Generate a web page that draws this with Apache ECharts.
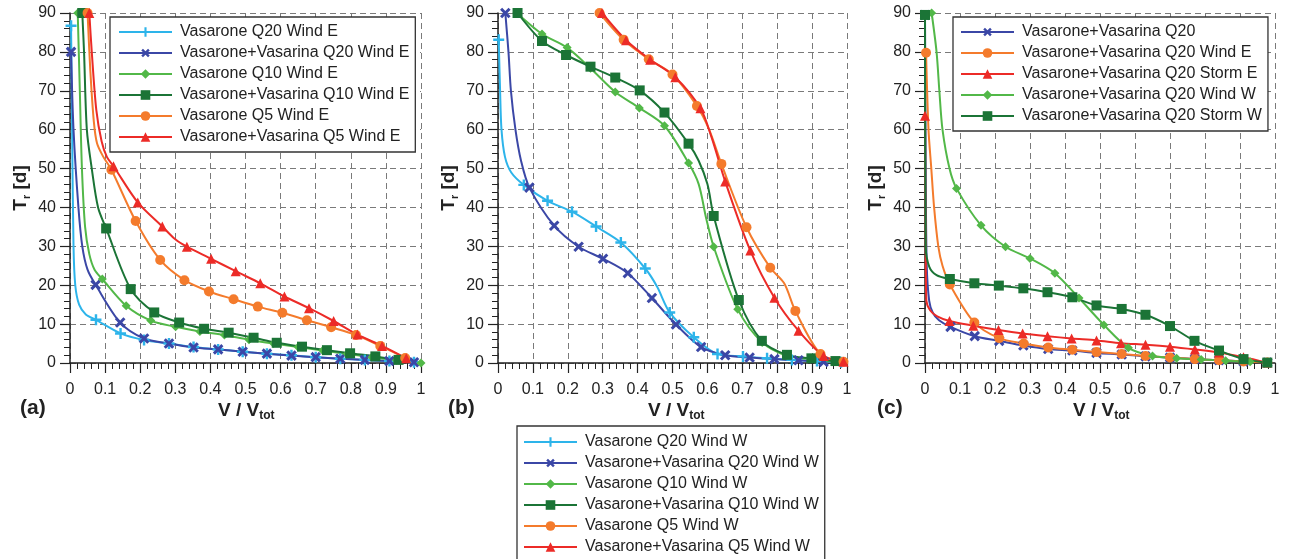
<!DOCTYPE html>
<html><head><meta charset="utf-8">
<script src="https://cdn.jsdelivr.net/npm/echarts@6/dist/echarts.min.js"></script>
<style>html,body{margin:0;padding:0;background:#fff}#c{width:1289px;height:559px}</style>
</head><body><div id="c"></div><script>
// ---------- tick labels / axis ranges ----------
const xTicks = [0,0.1,0.2,0.3,0.4,0.5,0.6,0.7,0.8,0.9,1];
const yTicks = [0,10,20,30,40,50,60,70,80,90];
const panelLabels = ['(a)','(b)','(c)'];

// ---------- series names ----------
const namesA = ['Vasarone Q20 Wind E','Vasarone+Vasarina Q20 Wind E','Vasarone Q10 Wind E','Vasarone+Vasarina Q10 Wind E','Vasarone Q5 Wind E','Vasarone+Vasarina Q5 Wind E'];
const namesB = ['Vasarone Q20 Wind W','Vasarone+Vasarina Q20 Wind W','Vasarone Q10 Wind W','Vasarone+Vasarina Q10 Wind W','Vasarone Q5 Wind W','Vasarone+Vasarina Q5 Wind W'];
const namesC = ['Vasarone+Vasarina Q20','Vasarone+Vasarina Q20 Wind E','Vasarone+Vasarina Q20 Storm E','Vasarone+Vasarina Q20 Wind W','Vasarone+Vasarina Q20 Storm W'];

// ---------- panel (a): marker points [V/Vtot, Tr] and extra curve points ----------
const a1 = [[0.003,86.7],[0.074,11.1],[0.144,7.6],[0.211,5.9],[0.282,5.0],[0.352,4.1],[0.422,3.5],[0.492,2.9],[0.561,2.4],[0.631,2.0],[0.700,1.5],[0.770,1.1],[0.840,0.8],[0.910,0.5],[0.980,0.2]];
const a1c = [[0.006,60],[0.01,30],[0.015,20],[0.026,15],[0.045,12.5]];
const a2 = [[0.003,80],[0.073,20.1],[0.143,10.4],[0.211,6.3],[0.282,5.0],[0.352,4.0],[0.422,3.5],[0.492,2.9],[0.561,2.4],[0.631,1.9],[0.700,1.5],[0.770,1.1],[0.840,0.8],[0.910,0.5],[0.980,0.2]];
const a2c = [[0.01,60],[0.024,40],[0.035,30],[0.05,24]];
const a3 = [[0.022,90],[0.092,21.6],[0.160,14.7],[0.230,10.9],[0.301,9.3],[0.370,8.1],[0.440,7.2],[0.510,6.0],[0.580,5.0],[0.650,4.1],[0.720,3.2],[0.790,2.3],[0.860,1.5],[0.930,0.7],[1.000,0.0]];
const a3c = [[0.028,70],[0.034,50],[0.043,35],[0.055,28],[0.07,24]];
const a4 = [[0.035,90],[0.103,34.6],[0.173,19.0],[0.240,13.0],[0.311,10.4],[0.382,8.8],[0.452,7.8],[0.523,6.5],[0.589,5.2],[0.661,4.2],[0.732,3.3],[0.798,2.5],[0.870,1.7],[0.936,0.8]];
const a4c = [[0.04,80],[0.048,60],[0.062,50],[0.08,40],[0.99,0.2]];
const a5 = [[0.050,90],[0.118,49.7],[0.187,36.5],[0.257,26.5],[0.326,21.3],[0.396,18.4],[0.466,16.4],[0.535,14.5],[0.605,12.9],[0.675,11.0],[0.744,9.2],[0.815,7.2],[0.884,4.4],[0.955,1.3]];
const a5c = [[0.058,75],[0.068,62],[0.077,56.5],[0.095,53]];
const a6 = [[0.055,90],[0.124,50.6],[0.193,41.3],[0.263,35.1],[0.333,29.9],[0.402,26.8],[0.472,23.6],[0.542,20.5],[0.611,17.1],[0.681,14.1],[0.751,10.8],[0.819,7.3],[0.889,4.4],[0.958,1.2]];
const a6c = [[0.062,80],[0.075,65],[0.09,57],[0.105,53],[0.3,31.8]];

// ---------- panel (b) ----------
const b1 = [[0.002,83.1],[0.074,45.8],[0.142,41.7],[0.212,38.9],[0.281,35.1],[0.352,31.0],[0.422,24.3],[0.492,13.0],[0.561,6.6],[0.629,2.3],[0.702,1.7],[0.771,1.2],[0.842,0.8],[0.914,0.5],[0.983,0.2]];
const b1c = [[0.006,70],[0.01,60],[0.02,53],[0.038,49],[0.456,19.6]];
const b2 = [[0.021,90],[0.090,45.1],[0.161,35.3],[0.231,29.9],[0.301,26.8],[0.372,23.1],[0.441,16.7],[0.510,9.9],[0.582,4.1],[0.651,2.0],[0.721,1.4],[0.792,1.0],[0.861,0.7],[0.933,0.3]];
const b2c = [[0.03,80],[0.037,70],[0.05,60],[0.066,52]];
const b3 = [[0.054,90],[0.126,84.6],[0.198,81.1],[0.265,75.8],[0.336,69.7],[0.405,65.6],[0.477,61.0],[0.546,51.4],[0.618,29.9],[0.687,13.8],[0.757,5.3],[0.826,1.9],[0.896,1.0],[0.966,0.4]];
const b3c = [[0.575,46],[0.597,37]];
const b4 = [[0.056,90],[0.126,82.8],[0.195,79.2],[0.265,76.2],[0.336,73.4],[0.406,70.1],[0.477,64.4],[0.546,56.4],[0.618,37.8],[0.690,16.2],[0.756,5.7],[0.828,2.1],[0.898,1.2],[0.967,0.5]];
const b4c = [[0.575,52],[0.6,46]];
const b5 = [[0.291,90],[0.360,83.1],[0.432,78.1],[0.500,74.2],[0.570,66.1],[0.640,51.2],[0.712,34.9],[0.780,24.5],[0.852,13.4],[0.924,2.3],[0.990,0.3]];
const b5c = [[0.605,60],[0.82,20.5]];
const b6 = [[0.298,90],[0.367,83.0],[0.436,78.0],[0.508,73.5],[0.580,65.5],[0.651,46.7],[0.723,28.9],[0.792,16.8],[0.861,8.3],[0.933,1.8],[0.990,0.3]];
const b6c = [[0.612,58]];

// ---------- panel (c) ----------
const c1 = [[0.0,89.5],[0.073,9.3],[0.142,6.9],[0.212,5.7],[0.281,4.5],[0.352,3.6],[0.421,3.2],[0.490,2.6],[0.562,2.2],[0.630,1.7],[0.700,1.4],[0.771,1.0],[0.840,0.7],[0.910,0.4],[0.978,0.1]];
const c1c = [[0.002,50],[0.005,25],[0.012,16],[0.022,13],[0.04,11]];
const c2 = [[0.003,79.8],[0.071,20.2],[0.141,10.4],[0.212,6.4],[0.282,5.0],[0.352,4.0],[0.421,3.4],[0.490,2.8],[0.562,2.3],[0.630,1.8],[0.700,1.4],[0.771,1.0],[0.840,0.7],[0.910,0.4],[0.978,0.1]];
const c2c = [[0.01,60],[0.018,50],[0.026,40],[0.038,30],[0.05,25]];
const c3 = [[0.0,63.6],[0.070,10.8],[0.138,9.6],[0.210,8.5],[0.279,7.6],[0.350,6.9],[0.419,6.3],[0.490,5.8],[0.560,5.1],[0.630,4.7],[0.700,4.2],[0.771,3.5],[0.840,2.7],[0.910,1.5],[0.978,0.1]];
const c3c = [[0.002,30],[0.004,16],[0.015,13.5],[0.035,12]];
const c4 = [[0.019,90],[0.090,44.9],[0.160,35.4],[0.230,29.9],[0.300,26.9],[0.371,23.1],[0.440,16.7],[0.511,9.8],[0.581,3.9],[0.650,1.8],[0.719,1.2],[0.789,0.9],[0.859,0.6],[0.929,0.3]];
const c4c = [[0.033,80],[0.041,70],[0.05,60],[0.07,50]];
const c5 = [[0.0,89.5],[0.071,21.6],[0.141,20.5],[0.211,19.9],[0.281,19.2],[0.350,18.2],[0.421,16.9],[0.490,14.8],[0.562,13.9],[0.630,12.4],[0.700,9.5],[0.770,5.7],[0.840,3.2],[0.910,1.0],[0.978,0.1]];
const c5c = [[0.002,30],[0.012,24.8],[0.033,22.6]];

// ---------- styles ----------
const COL = {cyan:'#2DB4EA', blue:'#3B47A6', lgreen:'#52B848', dgreen:'#1B7436', orange:'#F47B2C', red:'#EC2B27'};
const PLUS = 'path://M3.9,0H6.1V3.9H10V6.1H6.1V10H3.9V6.1H0V3.9H3.9Z';
const XMARK = 'path://M3.75,0H6.25V3.75H10V6.25H6.25V10H3.75V6.25H0V3.75H3.75Z';
const SYM = {
  plus:{symbol:PLUS,size:11,rot:0},
  cross:{symbol:XMARK,size:12,rot:45},
  diamond:{symbol:'diamond',size:9,rot:0},
  square:{symbol:'rect',size:10,rot:0},
  circle:{symbol:'circle',size:10,rot:0},
  triangle:{symbol:'triangle',size:10,rot:0}
};
const FONT = 'Liberation Sans, Arial, sans-serif';

function build(markers, extra){
  const pts = markers.map(p=>({value:p, m:true})).concat(extra.map(p=>({value:p, m:false})));
  pts.sort((a,b)=>a.value[0]-b.value[0]);
  return pts.map(p=> p.m ? {value:p.value} : {value:p.value, symbol:'none'});
}
function mk(name, gi, color, sym, markers, extra){
  const s = SYM[sym];
  return {
    type:'line', name:name, xAxisIndex:gi, yAxisIndex:gi,
    data: build(markers, extra),
    smooth:0.3,
    symbol:s.symbol, symbolSize:s.size, symbolRotate:s.rot, showSymbol:true, showAllSymbol:true,
    lineStyle:{color:color, width:2}, itemStyle:{color:color, borderWidth:0, opacity:1},
    emphasis:{disabled:true}, animation:false, clip:false, z:3
  };
}

const grids = [
  {left:70, top:13, width:351, height:350},
  {left:498, top:13, width:349, height:350},
  {left:925, top:13, width:350, height:350}
];
const axisCol = '#222';
const xAxes = grids.map((g,i)=>({
  gridIndex:i, type:'value', min:xTicks[0], max:xTicks[xTicks.length-1], interval:0.1,
  axisLine:{show:true, onZero:false, lineStyle:{color:axisCol, width:1.5}},
  axisTick:{show:true, inside:false, length:10, lineStyle:{color:axisCol, width:1.2}},
  minorTick:{show:true, splitNumber:5, length:6, lineStyle:{color:axisCol, width:1}},
  splitLine:{show:true, lineStyle:{color:'#7a7a7a', width:1, type:[6,4]}},
  axisLabel:{fontSize:16, color:'#222', margin:19, fontFamily:FONT, formatter:v=>String(Math.round(v*10)/10)}
}));
const yAxes = grids.map((g,i)=>({
  gridIndex:i, type:'value', min:yTicks[0], max:yTicks[yTicks.length-1], interval:10,
  axisLine:{show:true, onZero:false, lineStyle:{color:axisCol, width:1.5}},
  axisTick:{show:true, inside:false, length:10, lineStyle:{color:axisCol, width:1.2}},
  minorTick:{show:true, splitNumber:5, length:6, lineStyle:{color:axisCol, width:1}},
  splitLine:{show:true, lineStyle:{color:'#7a7a7a', width:1, type:[6,4]}},
  axisLabel:{fontSize:16, color:'#222', margin:14, fontFamily:FONT}
}));

const colorsA = [COL.cyan, COL.blue, COL.lgreen, COL.dgreen, COL.orange, COL.red];
const symsA = ['plus','cross','diamond','square','circle','triangle'];
const dataA = [[a1,a1c],[a2,a2c],[a3,a3c],[a4,a4c],[a5,a5c],[a6,a6c]];
const dataB = [[b1,b1c],[b2,b2c],[b3,b3c],[b4,b4c],[b5,b5c],[b6,b6c]];
const colorsC = [COL.blue, COL.orange, COL.red, COL.lgreen, COL.dgreen];
const symsC = ['cross','circle','triangle','diamond','square'];
const dataC = [[c1,c1c],[c2,c2c],[c3,c3c],[c4,c4c],[c5,c5c]];

const series = [];
namesA.forEach((n,i)=>series.push(mk(n+'#a',0,colorsA[i],symsA[i],dataA[i][0],dataA[i][1])));
namesB.forEach((n,i)=>series.push(mk(n+'#b',1,colorsA[i],symsA[i],dataB[i][0],dataB[i][1])));
namesC.forEach((n,i)=>series.push(mk(n+'#c',2,colorsC[i],symsC[i],dataC[i][0],dataC[i][1])));

function legend(names, suffix, left, top, pad, h){
  const l = {
    show:true, orient:'vertical', left:left, top:top, data:names.map(n=>n+suffix),
    formatter:n=>n.replace(suffix,''), selectedMode:false,
    itemWidth:53, itemHeight:12, itemGap:5, padding:pad,
    backgroundColor:'#fff', borderColor:'#333', borderWidth:1.3,
    textStyle:{fontSize:16, color:'#222', fontFamily:FONT, padding:[0,0,0,3]},
    z:10
  };
  if (h) l.height = h;
  return l;
}

const T = (txt, x, y)=>({type:'text', x:x, y:y, z:20, style:{text:txt, fill:'#222', font:'bold 21px '+FONT}});
const vLabel = (x)=>({type:'text', x:x, y:411, z:20, style:{
  text:'{m|V / V}{s|tot}', verticalAlign:'middle', align:'left',
  rich:{m:{fontSize:19, fontWeight:'bold', fontFamily:FONT, fill:'#222', lineHeight:22, verticalAlign:'middle'},
        s:{fontSize:12, fontWeight:'bold', fontFamily:FONT, fill:'#222', lineHeight:12, verticalAlign:'bottom'}}
}});
const tLabel = (x)=>({type:'text', x:x, y:188, rotation:Math.PI/2, z:20, style:{
  text:'{m|T}{s|r}{m| [d]}', verticalAlign:'middle', align:'center',
  rich:{m:{fontSize:19, fontWeight:'bold', fontFamily:FONT, fill:'#222', lineHeight:22, verticalAlign:'middle'},
        s:{fontSize:11, fontWeight:'bold', fontFamily:FONT, fill:'#222', lineHeight:11, verticalAlign:'bottom'}}
}});

const option = {
  animation:false,
  backgroundColor:'#fff',
  grid:grids,
  xAxis:xAxes, yAxis:yAxes,
  legend:[
    legend(namesA,'#a',110,17,[7,6,7,8]),
    legend(namesB,'#b',517,426,[8,6,12,6],200),
    legend(namesC,'#c',953,17,[7,6,7,7])
  ],
  series:series,
  graphic:[
    T(panelLabels[0], 20, 398), T(panelLabels[1], 448, 398), T(panelLabels[2], 877, 398),
    vLabel(218), vLabel(648), vLabel(1073),
    tLabel(21), tLabel(449), tLabel(876)
  ]
};
const chart = echarts.init(document.getElementById('c'), null, {renderer:'canvas'});
chart.setOption(option);
</script></body></html>
